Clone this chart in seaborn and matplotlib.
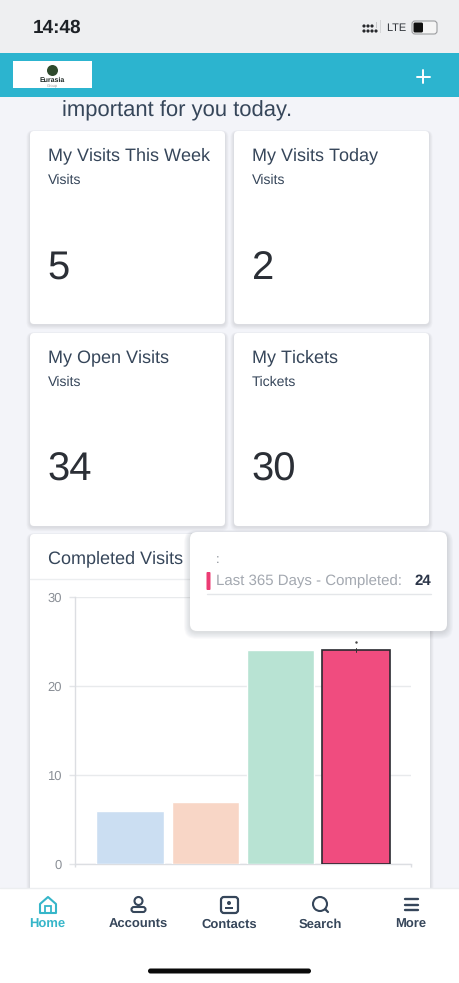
import matplotlib
matplotlib.use("Agg")
import matplotlib.pyplot as plt
from matplotlib.patches import FancyBboxPatch, Rectangle, Circle, Polygon
import seaborn as sns
import pandas as pd

# ---- data ----
periods = ["Last 7 Days", "Last 30 Days", "Last 90 Days", "Last 365 Days"]
completed = [6, 7, 24, 24]
bar_colors = ["#cbdef2", "#f8d6c6", "#b8e3d3", "#f04c7f"]
y_ticks = [0, 10, 20, 30]
card_titles = ["My Visits This Week", "My Visits Today", "My Open Visits", "My Tickets"]
card_subtitles = ["Visits", "Visits", "Visits", "Tickets"]
card_values = ["5", "2", "34", "30"]
nav_labels = ["Home", "Accounts", "Contacts", "Search", "More"]
chart_title = "Completed Visits"
tooltip_label = "Last 365 Days - Completed:"
tooltip_value = "24"

W, H = 459, 983
sns.set_theme(style="white")
plt.rcParams["font.family"] = ["Liberation Sans", "DejaVu Sans"]
plt.rcParams["text.hinting"] = "no_hinting"
plt.rcParams["text.hinting_factor"] = 1
INK = "#36465a"
GREY = "#8a8f96"

fig = plt.figure(figsize=(W / 100, H / 100), dpi=100, facecolor="#f3f4f9")


def layer(z):
    a = fig.add_axes([0, 0, 1, 1], zorder=z)
    a.set_xlim(0, W)
    a.set_ylim(H, 0)
    a.axis("off")
    a.patch.set_alpha(0)
    return a


def card(a, x0, y0, x1, y1, r=4, shadow=6, sa=0.018):
    for i in range(shadow, 0, -1):
        a.add_patch(FancyBboxPatch((x0 - i * .6, y0 + 1 - i * .3), x1 - x0 + i * 1.2, y1 - y0 + i * 1.0,
                                   boxstyle=f"round,pad=0,rounding_size={r + i * .5}",
                                   fc="#30384a", ec="none", alpha=sa))
    a.add_patch(FancyBboxPatch((x0, y0), x1 - x0, y1 - y0,
                               boxstyle=f"round,pad=0,rounding_size={r}", fc="white", ec="none"))


# ---- background layer ----
bg = layer(0)
bg.add_patch(Rectangle((0, 0), W, 53, fc="#eeeff1", ec="none"))
bg.text(33, 28, "14:48", fontsize=13.5, fontweight="bold", color="#1d2126", ha="left", va="center")
for cx, cy in [(364, 26), (368, 26), (372, 26), (364, 31), (368, 31), (372, 31), (376, 31)]:
    bg.add_patch(Circle((cx, cy), 1.6, fc="#26282c", ec="none"))
bg.add_patch(Rectangle((375.5, 22), 1.6, 6, fc="#c9cacc", ec="none"))
bg.add_patch(Rectangle((379.5, 20), 1.6, 13, fc="#d5d6d8", ec="none"))
bg.text(396, 28, "LTE", fontsize=8.2, color="#30343a", ha="center", va="center")
bg.add_patch(FancyBboxPatch((412, 21), 25, 13, boxstyle="round,pad=0,rounding_size=3",
                            fc="#f5f5f5", ec="#9b9da0", lw=0.8))
bg.add_patch(FancyBboxPatch((413.5, 22.5), 9.5, 10, boxstyle="round,pad=0,rounding_size=1.5",
                            fc="#111111", ec="none"))

bg.add_patch(Rectangle((0, 53), W, 44, fc="#2cb4cf", ec="none"))
bg.add_patch(Rectangle((13, 61), 79, 27, fc="white", ec="none"))
bg.add_patch(Circle((52.5, 70.5), 5.5, fc="#2f4a2c", ec="none"))
bg.text(52.5, 80, "Eurasia", fontsize=5.2, fontweight="bold", color="#1f2a26", ha="center", va="center")
bg.text(52.5, 86, "Group", fontsize=3, color="#9a9a9a", ha="center", va="center")
bg.plot([423, 423], [70, 83], color="white", lw=1.4)
bg.plot([417, 430], [76.5, 76.5], color="white", lw=1.4)
bg.text(62, 111, "important for you today.", fontsize=15.7, color=INK, ha="left", va="center")

cards = [(30, 131, 225, 324), (234, 131, 429, 324), (30, 333, 225, 526), (234, 333, 429, 526)]
for (x0, y0, x1, y1), t, s, v in zip(cards, card_titles, card_subtitles, card_values):
    card(bg, x0, y0, x1, y1)
    bg.text(x0 + 18, y0 + 29, t, fontsize=12.7, color=INK, ha="left", va="baseline")
    bg.text(x0 + 18, y0 + 53, s, fontsize=10, color=INK, ha="left", va="baseline")
    bg.text(x0 + 17.5, y0 + 148, v, fontsize=29, color="#2b2f36", ha="left", va="baseline")

card(bg, 30, 534, 430, 900)
bg.plot([30, 430], [579, 579], color="#eceef0", lw=1)
bg.text(48, 563, chart_title, fontsize=12.7, color=INK, ha="left", va="baseline")

# ---- chart ----
x_left, x_right, y_top, y_bottom = 75, 411, 597, 864
ax = fig.add_axes([x_left / W, 1 - y_bottom / H, (x_right - x_left) / W, (y_bottom - y_top) / H], zorder=1)
ax.patch.set_alpha(0)
df = pd.DataFrame({"period": periods, "completed": completed})
sns.barplot(data=df, x="period", y="completed", hue="period", palette=bar_colors,
            legend=False, width=0.89, saturation=1, ax=ax, zorder=3)
ax.patches[3].set_edgecolor("#2a2a30")
ax.patches[3].set_linewidth(1.2)
ax.set_xlim(-0.73, 3.73)
ax.set_ylim(0, 30)
ax.set_yticks(y_ticks)
ax.set_xticks([-0.73, 3.73], ["", ""])
ax.set_xlabel("")
ax.set_ylabel("")
ax.tick_params(axis="y", length=4.5, width=1, color="#e3e5e8", labelsize=9.5, labelcolor=GREY, pad=5, left=True)
ax.tick_params(axis="x", length=2.5, width=1, color="#dcdee2", bottom=True)
ax.grid(axis="y", color="#e8eaec", lw=1)
ax.set_axisbelow(True)
for s in ["top", "right"]:
    ax.spines[s].set_visible(False)
for s in ["left", "bottom"]:
    ax.spines[s].set_color("#dcdee2")
    ax.spines[s].set_linewidth(1)

# ---- overlay: error mark, tooltip, nav ----
top = layer(2)
top.plot([356, 356], [648, 652], color="#333333", lw=0.7)
top.plot([356], [642], marker=".", ms=1.5, color="#444444")

card(top, 190, 532, 447, 631, r=7, shadow=10, sa=0.014)
top.text(218, 560, ":", fontsize=9.5, color=GREY, ha="center", va="center")
top.add_patch(FancyBboxPatch((206.5, 572), 4, 18, boxstyle="round,pad=0,rounding_size=1",
                             fc="#ec3c74", ec="none"))
top.text(216, 585, tooltip_label, fontsize=11.1, color="#a3a8b0", ha="left", va="baseline")
top.text(431, 585, tooltip_value, fontsize=10.8, color="#2b3548", fontweight="bold", ha="right", va="baseline")
top.plot([207, 431], [594, 594], color="#e4e6e9", lw=1)

top.add_patch(Rectangle((0, 888), W, H - 888, fc="white", ec="none"))
top.plot([0, W], [888, 888], color="#eceef0", lw=1)
nav_x = [47, 138, 229, 320, 411]
TEAL = "#36b6c9"
for x, lab, c in zip(nav_x, nav_labels, [TEAL, INK, INK, INK, INK]):
    top.text(x, 928, lab, fontsize=9.7, fontweight="bold", color=c, ha="center", va="baseline")
# home
top.add_patch(Polygon([(40, 904), (40, 913), (56, 913), (56, 904), (48, 897)], closed=True,
                      fc="none", ec=TEAL, lw=1.5, joinstyle="round"))
top.add_patch(Rectangle((45, 906), 6, 7, fc="none", ec=TEAL, lw=1.3))
# accounts
top.add_patch(Circle((138.5, 901), 4, fc="none", ec=INK, lw=1.5))
top.add_patch(FancyBboxPatch((131.5, 907), 14, 5, boxstyle="round,pad=0,rounding_size=2.5",
                             fc="none", ec=INK, lw=1.5))
# contacts
top.add_patch(FancyBboxPatch((221, 897), 17, 16, boxstyle="round,pad=0,rounding_size=3",
                             fc="none", ec=INK, lw=1.6))
top.add_patch(Circle((229, 903), 2, fc=INK, ec="none"))
top.add_patch(Rectangle((225, 906.5), 8, 2.5, fc=INK, ec="none"))
# search
top.add_patch(Circle((320, 904), 7, fc="none", ec=INK, lw=1.5))
top.plot([325, 328], [909, 912], color=INK, lw=1.6)
# more
for yy in [899, 904.5, 910]:
    top.plot([404.5, 418], [yy, yy], color=INK, lw=1.7)
# home indicator
top.add_patch(FancyBboxPatch((148, 968.5), 163, 5, boxstyle="round,pad=0,rounding_size=2.5",
                             fc="#0a0a0a", ec="none"))

fig.savefig("out.png", dpi=100, facecolor=fig.get_facecolor())
